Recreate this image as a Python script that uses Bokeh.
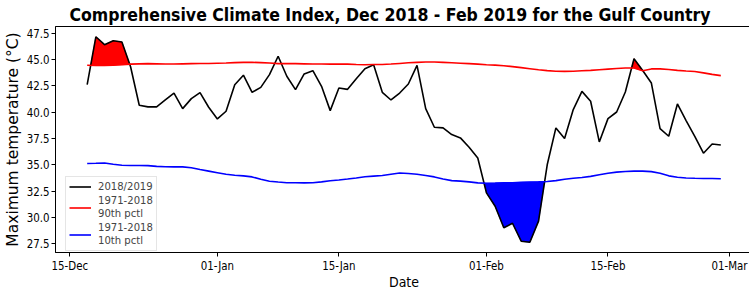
import numpy as np
import pandas as pd
from bokeh.plotting import figure
from bokeh.models import (Range1d, FixedTicker, DatetimeTickFormatter, Legend,
                          LegendItem, SingleIntervalTicker, NumeralTickFormatter)
from bokeh.embed import file_html
from bokeh.resources import INLINE

# ---------------- data ----------------
start_date = "2018-12-17"
tmax_2018_19 = [42.6, 47.15, 46.4, 46.78, 46.65, 44.3, 40.65, 40.5, 40.5, 41.15,
                41.8, 40.33, 41.28, 41.85, 40.46, 39.35, 40.08, 42.6, 43.5, 41.88,
                42.35, 43.56, 45.3, 43.4, 42.13, 43.62, 43.93, 42.45, 40.14, 42.29,
                42.16, 43.17, 44.12, 44.5, 41.88, 41.15, 41.81, 42.67, 44.44, 40.33,
                38.56, 38.5, 37.87, 37.55, 36.67, 35.65, 32.33, 31.07, 29.02, 29.45,
                27.75, 27.65, 29.65, 35.0, 38.5, 37.49, 40.24, 41.97, 41.03, 37.17,
                39.38, 40.01, 41.91, 45.07, 43.95, 42.76, 38.44, 37.71, 40.77, 39.2,
                37.7, 36.1, 36.98, 36.88]
pctl90 = [44.45, 44.42, 44.42, 44.45, 44.5, 44.55, 44.58, 44.6, 44.58, 44.56,
          44.56, 44.58, 44.6, 44.62, 44.62, 44.64, 44.66, 44.7, 44.72, 44.72,
          44.7, 44.66, 44.6, 44.6, 44.6, 44.58, 44.56, 44.56, 44.55, 44.55,
          44.55, 44.52, 44.5, 44.52, 44.52, 44.56, 44.62, 44.68, 44.72, 44.75,
          44.75, 44.72, 44.68, 44.64, 44.6, 44.55, 44.5, 44.46, 44.4, 44.32,
          44.22, 44.12, 44.02, 43.94, 43.88, 43.87, 43.88, 43.92, 43.96, 44.02,
          44.08, 44.14, 44.18, 44.18, 43.92, 44.1, 44.1, 44.04, 43.96, 43.9,
          43.85, 43.72, 43.58, 43.46]
pctl10 = [35.12, 35.14, 35.17, 35.05, 34.96, 34.93, 34.93, 34.92, 34.85, 34.82,
          34.8, 34.8, 34.72, 34.55, 34.4, 34.25, 34.1, 34.0, 33.95, 33.85,
          33.62, 33.44, 33.36, 33.3, 33.3, 33.28, 33.3, 33.38, 33.48, 33.56,
          33.65, 33.75, 33.86, 33.92, 33.98, 34.1, 34.22, 34.18, 34.1, 33.98,
          33.85, 33.65, 33.5, 33.45, 33.38, 33.28, 33.25, 33.26, 33.28, 33.3,
          33.33, 33.36, 33.38, 33.42, 33.5, 33.63, 33.72, 33.8, 33.9, 34.05,
          34.2, 34.3, 34.36, 34.4, 34.4, 34.35, 34.2, 33.95, 33.82, 33.75,
          33.72, 33.7, 33.7, 33.68]
# days lying inside the shaded hot / cold spells
hot_spell_days = ["2018-12-19", "2019-02-18"]
cold_spell_days = ["2019-02-05"]
tick_dates = ["2018-12-15", "2019-01-01", "2019-01-15", "2019-02-01",
              "2019-02-15", "2019-03-01"]
labels = ["2018/2019", "1971-2018\n90th pctl", "1971-2018\n10th pctl"]

# ---------------- helpers ----------------
def to_ms(d):
    return np.asarray(pd.to_datetime(d).values.astype("datetime64[ms]").astype(np.int64), dtype=float)

dates = pd.date_range(start_date, periods=len(tmax_2018_19))
x = to_ms(dates)
black = np.array(tmax_2018_19)
red = np.array(pctl90)
blue = np.array(pctl10)


def spells(a, b, cond, marked):
    """polygons between series a and threshold b where cond holds, for marked spells"""
    xs_out, ys_out = [], []
    n = len(x)
    i = 0
    while i < n:
        if not cond[i]:
            i += 1
            continue
        j = i
        while j + 1 < n and cond[j + 1]:
            j += 1
        if any(i <= m <= j for m in marked):
            px, pa, pb = list(x[i:j + 1]), list(a[i:j + 1]), list(b[i:j + 1])
            if i > 0:
                d0, d1 = a[i - 1] - b[i - 1], a[i] - b[i]
                t = d0 / (d0 - d1)
                xc = x[i - 1] + t * (x[i] - x[i - 1])
                yc = b[i - 1] + t * (b[i] - b[i - 1])
                px.insert(0, xc); pa.insert(0, yc); pb.insert(0, yc)
            if j < n - 1:
                d0, d1 = a[j] - b[j], a[j + 1] - b[j + 1]
                t = d0 / (d0 - d1)
                xc = x[j] + t * (x[j + 1] - x[j])
                yc = b[j] + t * (b[j + 1] - b[j])
                px.append(xc); pa.append(yc); pb.append(yc)
            xs_out.append(px + px[::-1])
            ys_out.append(pa + pb[::-1])
        i = j + 1
    return xs_out, ys_out


def idx_of(days):
    return [int(np.argmin(np.abs(x - to_ms([d])[0]))) for d in days]

hot_x, hot_y = spells(black, red, black > red, idx_of(hot_spell_days))
cold_x, cold_y = spells(black, blue, black < blue, idx_of(cold_spell_days))

span_x = x[-1] - x[0]
ymin, ymax = black.min(), black.max()
span_y = ymax - ymin

FONT = "DejaVu Sans"
CFONT = "DejaVu Sans Condensed"

p = figure(frame_width=697, frame_height=226, output_backend="svg", toolbar_location=None,
           x_axis_type="datetime",
           x_range=Range1d(x[0] - 0.05 * span_x, x[-1] + 0.05 * span_x),
           y_range=Range1d(ymin - 0.05 * span_y, ymax + 0.05 * span_y),
           min_border_left=42, min_border_right=0, min_border_top=22,
           min_border_bottom=0)

p.title.text = "Comprehensive Climate Index, Dec 2018 - Feb 2019 for the Gulf Country"
p.title.align = "left"
p.title.offset = 14
p.title.text_font = CFONT
p.title.text_font_size = "17.5px"
p.title.text_font_style = "bold"
p.title.text_color = "black"
p.title.standoff = 4

p.xgrid.visible = False
p.ygrid.visible = False
p.outline_line_color = "black"
p.outline_line_alpha = 1
p.outline_line_width = 1

p.patches(hot_x, hot_y, fill_color="red", line_color="red", line_width=0.5)
p.patches(cold_x, cold_y, fill_color="blue", line_color="blue", line_width=0.5)

r1 = p.line(x, black, line_color="black", line_width=1.6)
r2 = p.line(x, red, line_color="red", line_width=1.6)
r3 = p.line(x, blue, line_color="blue", line_width=1.6)

for ax in (p.xaxis[0], p.yaxis[0]):
    ax.axis_line_color = "black"
    ax.major_tick_line_color = "black"
    ax.major_tick_out = 4
    ax.major_tick_in = 0
    ax.minor_tick_line_color = None
    ax.major_label_text_font = CFONT
    ax.major_label_text_font_size = "11.4px"
    ax.major_label_text_color = "black"
    ax.major_label_standoff = 2
    ax.axis_label_text_font_style = "normal"
    ax.axis_label_text_color = "black"
    ax.axis_label_standoff = 2

p.xaxis.ticker = FixedTicker(ticks=list(to_ms(tick_dates)))
p.xaxis.formatter = DatetimeTickFormatter(days="%d-%b", months="%d-%b", years="%d-%b")
p.xaxis.axis_label = "Date"
p.xaxis.axis_label_text_font = CFONT
p.xaxis.axis_label_text_font_size = "14px"
p.xaxis.axis_label_standoff = -2
p.yaxis.ticker = SingleIntervalTicker(interval=2.5, num_minor_ticks=0)
p.yaxis.formatter = NumeralTickFormatter(format="0.0")
p.yaxis.axis_label = "Maximum temperature (°C)"
p.yaxis.axis_label_text_font = FONT
p.yaxis.axis_label_text_font_size = "15.5px"

legend = Legend(items=[LegendItem(label=labels[0], renderers=[r1]),
                       LegendItem(label=labels[1], renderers=[r2]),
                       LegendItem(label=labels[2], renderers=[r3])],
                location=(10, 1), margin=0)
legend.label_text_font = CFONT
legend.label_text_font_size = "11.2px"
legend.label_text_line_height = 1.0
legend.label_standoff = 7
legend.glyph_width = 22
legend.glyph_height = 11
legend.label_height = 11
legend.spacing = 1
legend.padding = 3
legend.border_line_color = "#cccccc"
legend.background_fill_alpha = 0.8
p.add_layout(legend)

open("out.html", "w").write(file_html(p, INLINE))
